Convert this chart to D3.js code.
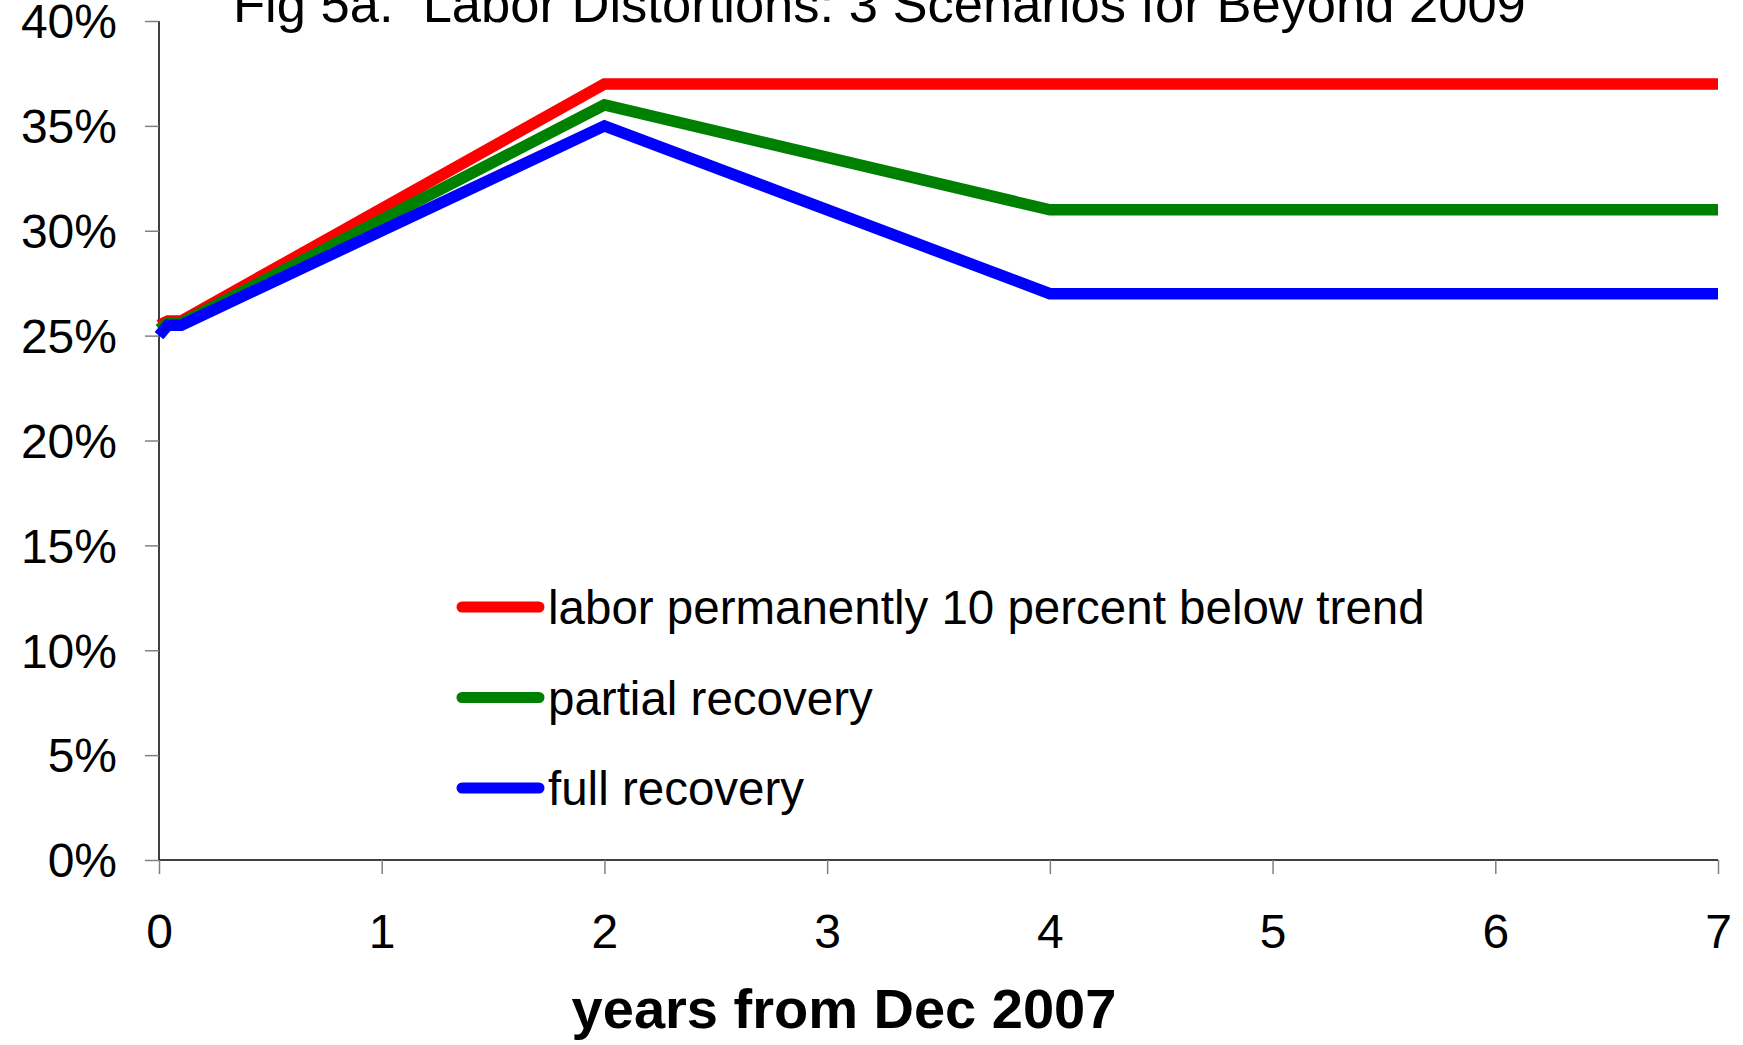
<!DOCTYPE html>
<html>
<head>
<meta charset="utf-8">
<script src="https://cdn.jsdelivr.net/npm/d3@7"></script>
<style>
  html, body { margin: 0; padding: 0; background: #fff; }
  svg { display: block; font-family: "Liberation Sans", Arial, sans-serif; }
</style>
</head>
<body>
<svg id="chart" width="1743" height="1045"></svg>
<script>
// ---- data ----
const years = [0, 0.04, 0.1, 2, 4, 7];
const seriesNames = ["labor permanently 10 percent below trend", "partial recovery", "full recovery"];
const seriesColors = ["#ff0000", "#008000", "#0000ff"];
const redValues   = [25.5, 25.7, 25.7, 37, 37, 37];
const greenValues = [25.3, 25.6, 25.6, 36, 31, 31];
const blueValues  = [25.0, 25.5, 25.5, 35, 27, 27];
const xTicks = [0, 1, 2, 3, 4, 5, 6, 7];
const yTicks = [0, 5, 10, 15, 20, 25, 30, 35, 40];
const titleText = "Fig 5a.  Labor Distortions: 3 Scenarios for Beyond 2009";
const xAxisTitle = "years from Dec 2007";

const series = [redValues, greenValues, blueValues];

// ---- layout ----
const svg = d3.select("#chart");
const x = d3.scaleLinear().domain([0, 7]).range([159, 1718]);
const y = d3.scaleLinear().domain([0, 40]).range([860, 21]);

// title
svg.append("text")
  .attr("x", 233).attr("y", 22)
  .attr("font-size", 52.5)
  .style("white-space", "pre")
  .attr("fill", "#000")
  .text(titleText);

// x axis
const xAxis = d3.axisBottom(x).tickValues(xTicks).tickSize(14).tickPadding(0).tickFormat(d3.format("d"));
const gx = svg.append("g").attr("transform", "translate(0,860)").call(xAxis);
gx.select(".domain").attr("stroke", "#000").attr("stroke-width", 1.5).attr("d", `M${x(0)},0H${x(7)}`);
gx.selectAll(".tick line").attr("stroke", "#808080").attr("stroke-width", 1.5);
gx.selectAll(".tick text")
  .attr("font-size", 48).attr("fill", "#000")
  .attr("font-family", "Liberation Sans, Arial, sans-serif")
  .attr("dy", null).attr("y", 88);

// y axis
const yAxis = d3.axisLeft(y).tickValues(yTicks).tickSize(14).tickPadding(0).tickFormat(d => d + "%");
const gy = svg.append("g").attr("transform", "translate(159,0)").call(yAxis);
gy.select(".domain").attr("stroke", "#000").attr("stroke-width", 1.5).attr("d", `M0,${y(40)}V${y(0)}`);
gy.selectAll(".tick line").attr("stroke", "#808080").attr("stroke-width", 1.5);
gy.selectAll(".tick text")
  .attr("font-size", 48).attr("fill", "#000")
  .attr("font-family", "Liberation Sans, Arial, sans-serif")
  .attr("x", -42).attr("dy", "0.35em");

// x axis title
svg.append("text")
  .attr("x", 844).attr("y", 1028)
  .attr("text-anchor", "middle")
  .attr("font-size", 56).attr("font-weight", "bold")
  .attr("fill", "#000")
  .text(xAxisTitle);

// lines
const line = d3.line().x((d, i) => x(years[i])).y(d => y(d));
series.forEach((vals, k) => {
  svg.append("path")
    .datum(vals)
    .attr("d", line)
    .attr("fill", "none")
    .attr("stroke", seriesColors[k])
    .attr("stroke-width", 11.5)
    .attr("stroke-linejoin", "miter")
    .attr("stroke-linecap", "butt");
});

// legend
const legendY = d3.scalePoint().domain(seriesNames).range([607, 788]);
const lg = svg.append("g");
seriesNames.forEach((name, k) => {
  const cy = legendY(name);
  lg.append("line")
    .attr("x1", 462).attr("x2", 539)
    .attr("y1", cy).attr("y2", cy)
    .attr("stroke", seriesColors[k])
    .attr("stroke-width", 11)
    .attr("stroke-linecap", "round");
  lg.append("text")
    .attr("x", 548).attr("y", cy + 17)
    .attr("font-size", 47.5).attr("fill", "#000")
    .text(name);
});
</script>
</body>
</html>
